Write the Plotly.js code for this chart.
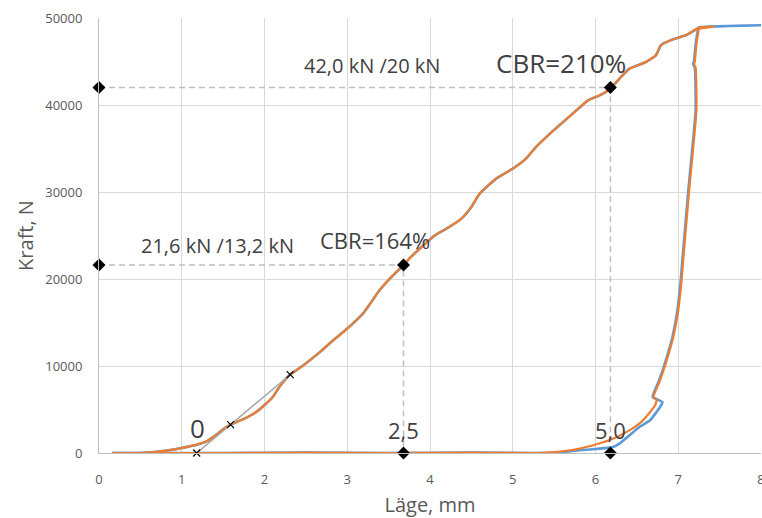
<!DOCTYPE html>
<html>
<head>
<meta charset="utf-8">
<script src="https://cdn.plot.ly/plotly-3.0.1.min.js"></script>
<style>html,body{margin:0;padding:0;background:#fff;}#chart{width:762px;height:518px;}</style>
</head>
<body>
<div id="chart"></div>
<script>
// Loading curve (shared by both series), Läge mm / Kraft N
const loadX = [0.16, 0.35, 0.5, 0.74, 0.90, 1.02, 1.18, 1.30, 1.42, 1.52, 1.60, 1.74, 1.90, 2.02, 2.10, 2.18, 2.30, 2.47, 2.67, 2.83, 3.00, 3.19, 3.39, 3.52, 3.68, 3.75, 3.92, 4.06, 4.20, 4.38, 4.50, 4.60, 4.80, 5.00, 5.16, 5.28, 5.45, 5.61, 5.77, 5.91, 6.05, 6.18, 6.29, 6.41, 6.61, 6.73, 6.79, 6.93, 7.09, 7.25];
const loadY = [0, 0, 0, 200, 390, 620, 960, 1340, 2110, 2870, 3300, 3870, 4710, 5680, 6440, 7590, 8930, 10080, 11610, 12950, 14300, 16020, 18700, 20100, 21600, 22340, 23870, 25020, 25790, 26940, 28280, 29820, 31540, 32690, 33840, 35170, 36710, 38050, 39390, 40540, 41110, 41880, 43030, 44180, 44940, 45710, 46860, 47520, 48010, 48900];

// Series 1 (blue): top plateau and unloading
const blueTopX = [7.25, 7.6, 8.0, 8.2];
const blueTopY = [48950, 49080, 49160, 49180];
const blueUnloadX = [7.24, 7.21, 7.19, 7.18, 7.20, 7.21, 7.12, 7.05, 7.03, 6.99, 6.93, 6.85, 6.77, 6.69, 6.81, 6.78, 6.66, 6.53, 6.41, 6.29, 6.21, 6.05, 5.81, 5.55, 5.30, 4.5, 3.5, 2.5, 1.5, 0.16];
const blueUnloadY = [48800, 47000, 45000, 44700, 44300, 39400, 30000, 22150, 19850, 16400, 13330, 10650, 8360, 6440, 5860, 5290, 3760, 2990, 2030, 1080, 690, 500, 310, 60, 0, 40, 0, 40, 0, 0];

// Series 2 (orange): top plateau and unloading
const orangeTopX = [7.25, 7.43, 7.25];
const orangeTopY = [48900, 48970, 48800];
const orangeUnloadX = [7.25, 7.22, 7.20, 7.19, 7.21, 7.22, 7.13, 7.06, 7.04, 7.00, 6.94, 6.86, 6.78, 6.70, 6.74, 6.72, 6.61, 6.53, 6.41, 6.21, 6.01, 5.81, 5.60, 5.35, 5.20, 4.5, 3.5, 2.5, 1.5, 0.16];
const orangeUnloadY = [48800, 47000, 45000, 44700, 44300, 39400, 30000, 22150, 19850, 16400, 13330, 10650, 8360, 6440, 6140, 5480, 4140, 3370, 2600, 1650, 1000, 500, 200, 30, 0, 40, 0, 40, 0, 0];

// Tangent construction (corrected zero point)
const tanX = [1.18, 1.59, 2.31];
const tanY = [0, 3260, 9000];

// CBR evaluation points: 2,5 mm and 5,0 mm after corrected zero
const cbrX = [3.68, 6.18];
const cbrY = [21600, 42000];

const blue = '#5B9BD5', orange = '#ED7D31';
const font = 'Open Sans, Liberation Sans, sans-serif';

const dashX = [0, cbrX[0], cbrX[0], null, 0, cbrX[1], cbrX[1]];
const dashY = [cbrY[0], cbrY[0], 0, null, cbrY[1], cbrY[1], 0];

const traces = [
  {x: blueTopX.slice().reverse().concat(loadX.slice().reverse()).concat([null]).concat(blueUnloadX),
   y: blueTopY.slice().reverse().concat(loadY.slice().reverse()).concat([null]).concat(blueUnloadY),
   mode: 'lines', line: {color: blue, width: 2.6, shape: 'spline', smoothing: 0.4}, hoverinfo: 'skip'},
  {x: loadX.concat(orangeTopX.slice(1)).concat(orangeUnloadX),
   y: loadY.concat(orangeTopY.slice(1)).concat(orangeUnloadY),
   mode: 'lines', line: {color: orange, width: 2.2, shape: 'spline', smoothing: 0.4}, hoverinfo: 'skip'},
  {x: tanX, y: tanY, mode: 'lines+markers', line: {color: '#A5A5A5', width: 1.5},
   marker: {symbol: 'x-thin', size: 7, line: {width: 1.2, color: '#000'}, color: '#000'}, cliponaxis: false},
  {x: dashX, y: dashY, mode: 'lines', line: {color: '#BFBFBF', width: 1.5, dash: '6px,4px'}},
  {x: [0, cbrX[0], cbrX[0], 0, cbrX[1], cbrX[1]], y: [cbrY[0], cbrY[0], 0, cbrY[1], cbrY[1], 0],
   mode: 'markers', marker: {symbol: 'diamond', size: 10, color: '#000'}, cliponaxis: false}
];

const txt = '#404040';
const layout = {
  width: 762, height: 518,
  margin: {l: 99, r: 1, t: 18, b: 65},
  showlegend: false,
  paper_bgcolor: '#fff', plot_bgcolor: '#fff',
  font: {family: font, color: '#595959'},
  xaxis: {range: [0, 8], dtick: 1, tick0: 0, showgrid: true, gridcolor: '#D9D9D9', gridwidth: 1,
    zeroline: false, showline: true, linecolor: '#BFBFBF', linewidth: 1, ticks: '',
    ticklabeloverflow: 'allow',
    tickfont: {size: 13, color: '#595959', family: font}, ticklabelstandoff: 14,
    title: {text: 'Läge, mm', font: {size: 20, color: '#595959', family: font}, standoff: 11}},
  yaxis: {range: [0, 50000], dtick: 10000, tick0: 0, tickformat: 'd', showgrid: true, gridcolor: '#D9D9D9', gridwidth: 1,
    zeroline: false, showline: true, linecolor: '#BFBFBF', linewidth: 1, ticks: '',
    ticklabeloverflow: 'allow',
    tickfont: {size: 13, color: '#595959', family: font}, ticklabelstandoff: 13,
    title: {text: 'Kraft, N', font: {size: 20, color: '#595959', family: font}, standoff: 6}},
  annotations: [
    {x: 3.30, y: 44560, text: '42,0 kN /20 kN', size: 20},
    {x: 5.58, y: 44790, text: 'CBR=210%', size: 26},
    {x: 1.43, y: 23870, text: '21,6 kN /13,2 kN', size: 20},
    {x: 3.33, y: 24450, text: 'CBR=164%', size: 22},
    {x: 1.19, y: 2840, text: '0', size: 26},
    {x: 3.68, y: 2610, text: '2,5', size: 22},
    {x: 6.18, y: 2610, text: '5,0', size: 22}
  ].map(a => ({x: a.x, y: a.y, xref: 'x', yref: 'y', text: a.text, showarrow: false,
    xanchor: 'center', yanchor: 'middle', font: {family: font, size: a.size, color: txt}}))
};

Plotly.newPlot('chart', traces, layout, {displayModeBar: false, staticPlot: true});
</script>
</body>
</html>
